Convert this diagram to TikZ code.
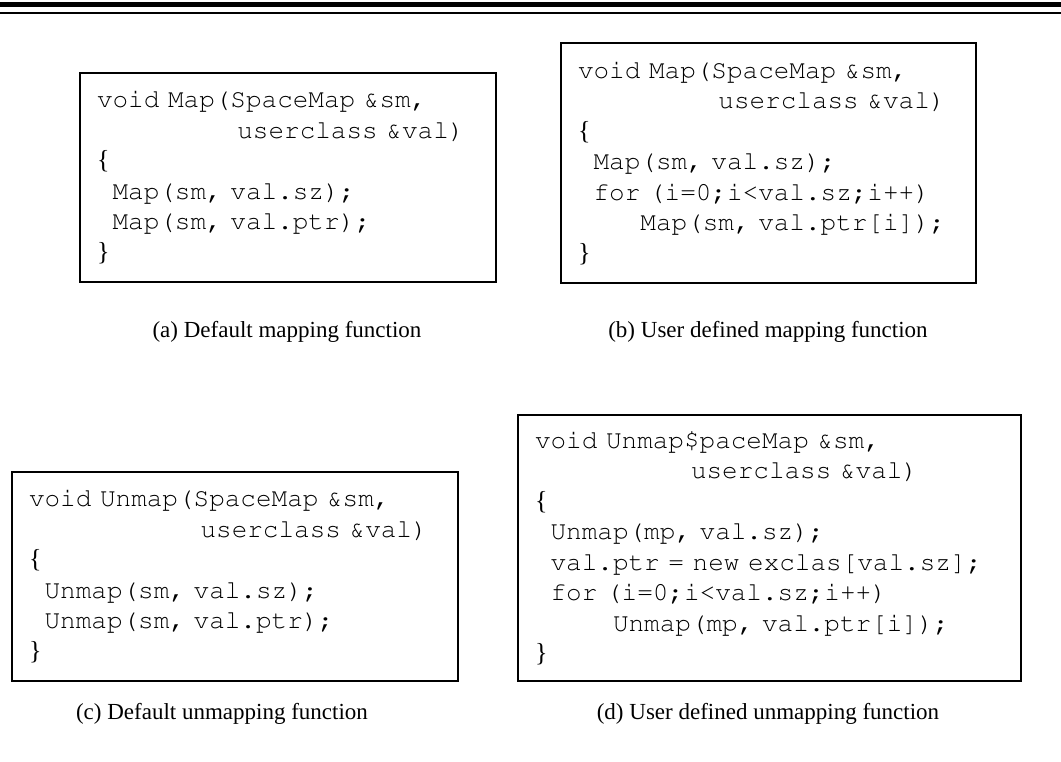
\documentclass[tikz,border=0pt]{standalone}
\usepackage[T1]{fontenc}
\usepackage{fontspec}
\setmainfont{Liberation Serif}
\newfontfamily\bracefont{Liberation Serif}
\usetikzlibrary{positioning}

% Courier for the listings, indent by n columns, serif braces
\newcommand\codefont{\fontencoding{T1}\fontfamily{pcr}\fontseries{m}\fontshape{n}%
  \fontsize{13}{15.25}\selectfont}
\newcommand\ind[1]{\hspace*{#1\fontcharwd\font`\ }}
\newcommand\lbr{{\fontencoding{TU}\bracefont\{}}
\newcommand\rbr{{\fontencoding{TU}\bracefont\}}}

\begin{document}
\begin{tikzpicture}[x=0.5pt,y=-0.5pt,
  codebox/.style={draw,line width=1pt,anchor=north west,align=left,
    inner xsep=8.5pt,inner ysep=0pt,font=\codefont},
  subcap/.style={font=\fontsize{11.5}{14}\selectfont}]
  \useasboundingbox (0,0) rectangle (1061,761);
  % rules at the top of the page
  \draw[line width=2.5pt] (0,4.2) -- (1061,4.2);
  \draw[line width=1.15pt] (0,13.2) -- (1061,13.2);

  \node[codebox,text width=191pt,minimum height=104.5pt] (mapdef) at (79,72)
    {void Map(SpaceMap \&sm,\\
     \ind{9}userclass \&val)\\
     \lbr\\
     \ind{1}Map(sm, val.sz);\\
     \ind{1}Map(sm, val.ptr);\\
     \rbr};
  \node[codebox,text width=190.5pt,minimum height=120pt] (mapuser) at (560,42)
    {void Map(SpaceMap \&sm,\\
     \ind{9}userclass \&val)\\
     \lbr\\
     \ind{1}Map(sm, val.sz);\\
     \ind{1}for (i=0;i<val.sz;i++)\\
     \ind{4}Map(sm, val.ptr[i]);\\
     \rbr};
  \node[codebox,text width=206pt,minimum height=104.5pt] (unmapdef) at (11,471)
    {void Unmap(SpaceMap \&sm,\\
     \ind{11}userclass \&val)\\
     \lbr\\
     \ind{1}Unmap(sm, val.sz);\\
     \ind{1}Unmap(sm, val.ptr);\\
     \rbr};
  \node[codebox,text width=234.5pt,minimum height=133pt] (unmapuser) at (517,414)
    {void Unmap\$paceMap \&sm,\\
     \ind{10}userclass \&val)\\
     \lbr\\
     \ind{1}Unmap(mp, val.sz);\\
     \ind{1}val.ptr = new exclas[val.sz];\\
     \ind{1}for (i=0;i<val.sz;i++)\\
     \ind{5}Unmap(mp, val.ptr[i]);\\
     \rbr};

  \node[subcap] (capa) at (287,332) {(a) Default mapping function};
  \node[subcap] (capb) at (768,332) {(b) User defined mapping function};
  \node[subcap] (capc) at (222,714) {(c) Default unmapping function};
  \node[subcap] (capd) at (768,714) {(d) User defined unmapping function};
\end{tikzpicture}
\end{document}
